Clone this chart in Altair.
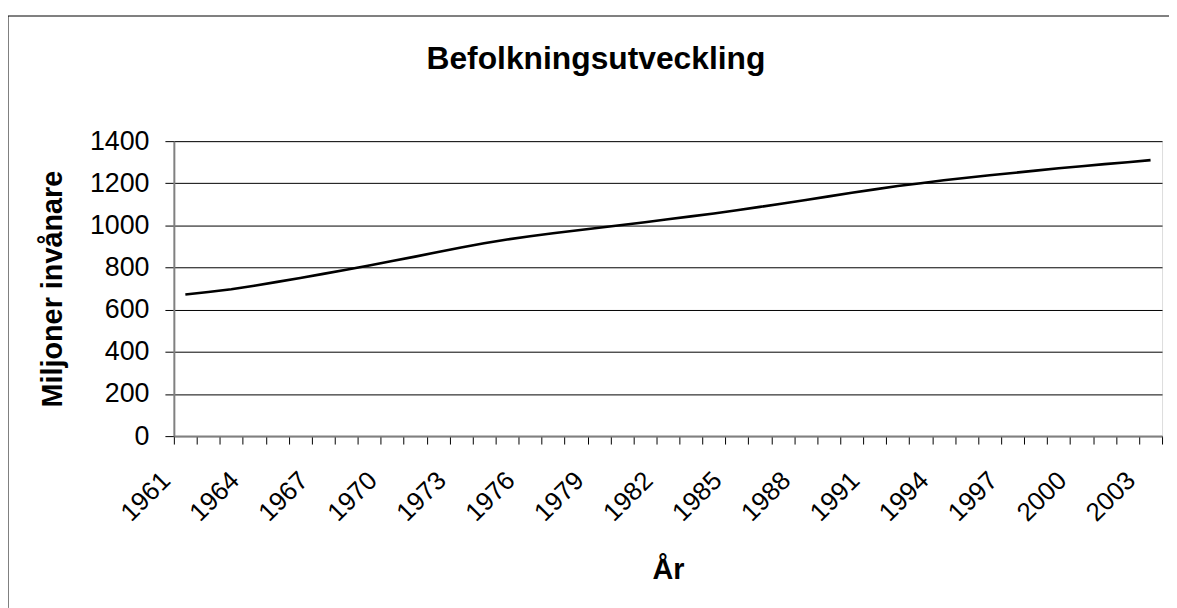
import altair as alt
import pandas as pd

years = list(range(1961, 2004))
population = [672, 684, 697, 714, 732, 750, 770, 790, 810, 831,
              852, 874, 895, 915, 933, 949, 963, 976, 989, 1002,
              1015, 1029, 1043, 1057, 1072, 1088, 1104, 1121, 1138, 1155,
              1171, 1187, 1200, 1214, 1226, 1238, 1249, 1260, 1271, 1281,
              1291, 1300, 1310]
label_years = [1961, 1964, 1967, 1970, 1973, 1976, 1979, 1982, 1985, 1988,
               1991, 1994, 1997, 2000, 2003]
y_ticks = [0, 200, 400, 600, 800, 1000, 1200, 1400]
chart_title = "Befolkningsutveckling"

df = pd.DataFrame({"year": [str(y) for y in years], "pop": population})

FONT = "Liberation Sans"
label_list = ",".join("'%d'" % y for y in label_years)

line = alt.Chart(df).mark_line(color="black", strokeWidth=2.6).encode(
    x=alt.X(
        "year:O",
        bandPosition=0.5,
        scale=alt.Scale(type="band", paddingInner=0, paddingOuter=0),
        axis=alt.Axis(
            title="År",
            titleFont=FONT, titleFontSize=29, titleFontWeight="bold", titleColor="black",
            titlePadding=30,
            labelFont=FONT, labelFontSize=26, labelColor="black", labelAngle=-45,
            labelExpr="indexof([" + label_list + "], datum.value) >= 0 ? datum.label : ''",
            labelOverlap=False, labelPadding=23, labelOffset=-29,
            tickBand="extent", tickSize=8, tickColor="black", tickWidth=1,
            domainColor="#808080", domainWidth=2,
            grid=False,
        ),
    ),
    y=alt.Y(
        "pop:Q",
        scale=alt.Scale(domain=[0, 1400], nice=False),
        axis=alt.Axis(
            values=y_ticks, format="d",
            title="Miljoner invånare",
            titleFont=FONT, titleFontSize=29, titleFontWeight="bold", titleColor="black",
            titlePadding=22,
            labelFont=FONT, labelFontSize=27, labelColor="black", labelPadding=16,
            tickSize=9, tickColor="black", tickWidth=1,
            domainColor="#808080", domainWidth=2,
            grid=True, gridColor="black", gridWidth=1,
        ),
    ),
)

frame = alt.Data(values=[{"t": chart_title}])
left_border = alt.Chart(frame).mark_rule(color="black", strokeWidth=1).encode(
    x=alt.value(-167), y=alt.value(-126), y2=alt.value(470)
)
top_border = alt.Chart(frame).mark_rule(color="black", strokeWidth=1).encode(
    x=alt.value(-167), x2=alt.value(1010), y=alt.value(-126)
)
title_text = alt.Chart(frame).mark_text(
    font=FONT, fontSize=32, fontWeight="bold", color="black",
    align="center", baseline="middle",
).encode(x=alt.value(425), y=alt.value(-83), text="t:N")

chart = alt.layer(line, left_border, top_border, title_text).properties(
    width=995,
    height=297,
    autosize=alt.AutoSizeParams(type="none"),
    padding={"left": 167, "top": 132, "right": 7, "bottom": 171},
).configure_view(
    fill="#C0C0C0", stroke="#808080", strokeWidth=2
).configure(background="white")

chart.save("out.html", embed_options={"renderer": "svg", "actions": False})
